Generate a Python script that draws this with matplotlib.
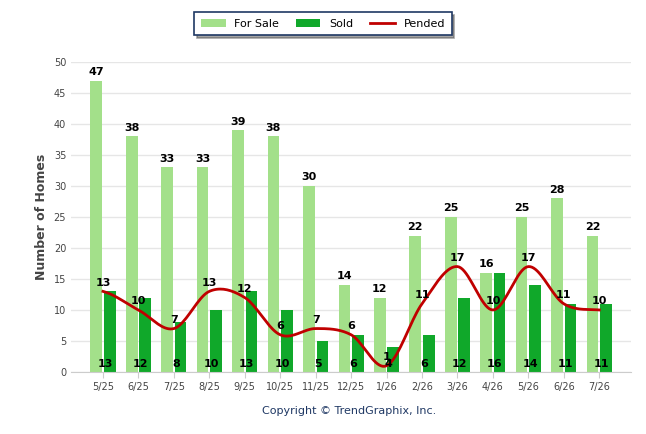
import numpy as np
from matplotlib import pyplot as plt

months = ['5/25', '6/25', '7/25', '8/25', '9/25', '10/25', '11/25', '12/25',
          '1/26', '2/26', '3/26', '4/26', '5/26', '6/26', '7/26']
for_sale = [47, 38, 33, 33, 39, 38, 30, 14, 12, 22, 25, 16, 25, 28, 22]
sold = [13, 12, 8, 10, 13, 10, 5, 6, 4, 6, 12, 16, 14, 11, 11]
pended = [13, 10, 7, 13, 12, 6, 7, 6, 1, 11, 17, 10, 17, 11, 10]


def smooth(xs, ys, n=20):
    # Catmull-Rom curve through the points, only for drawing the line
    xs = np.asarray(xs, float)
    ys = np.asarray(ys, float)
    px = np.concatenate([[2 * xs[0] - xs[1]], xs, [2 * xs[-1] - xs[-2]]])
    py = np.concatenate([[ys[0]], ys, [ys[-1]]])
    ox, oy = [], []
    t = np.linspace(0, 1, n, endpoint=False)
    for i in range(1, len(px) - 2):
        for p, o in ((px, ox), (py, oy)):
            p0, p1, p2, p3 = p[i - 1], p[i], p[i + 1], p[i + 2]
            o.extend(0.5 * (2 * p1 + (-p0 + p2) * t + (2 * p0 - 5 * p1 + 4 * p2 - p3) * t ** 2
                            + (-p0 + 3 * p1 - 3 * p2 + p3) * t ** 3))
    ox.append(xs[-1])
    oy.append(ys[-1])
    return ox, oy


fig = plt.figure(figsize=(6.46, 4.34), dpi=100)
ax = fig.add_axes([0.11, 0.143, 0.867, 0.714])

x = np.arange(len(months))
w = 0.33
off = 0.19
b1 = ax.bar(x - off, for_sale, w, color='#a3e08a', label='For Sale', zorder=2)
b2 = ax.bar(x + off, sold, w, color='#10a82a', label='Sold', zorder=2)
sx, sy = smooth(x, pended)
l1, = ax.plot(sx, sy, color='#c00000', lw=2, label='Pended', zorder=3)

for i in x:
    ax.text(i - off, for_sale[i] + 0.6, str(for_sale[i]), ha='center', va='bottom',
            fontsize=8, fontweight='bold', zorder=4)
    ax.text(i + off * 0.3, 0.4, str(sold[i]), ha='center', va='bottom', fontsize=8,
            fontweight='bold', zorder=4)
    ax.text(i, pended[i] + 0.6, str(pended[i]), ha='center', va='bottom', fontsize=8,
            fontweight='bold', zorder=4)

ax.set_xlim(-0.9, len(months) - 0.1)
ax.set_ylim(0, 50)
ax.set_yticks(range(0, 51, 5))
ax.set_xticks(x, months)
ax.tick_params(axis='both', labelsize=7, colors='#444444', length=0)
ax.tick_params(axis='x', length=4, color='#cccccc')
ax.grid(axis='y', color='#e6e6e6', lw=1, zorder=0)
for s in ['top', 'right', 'left']:
    ax.spines[s].set_visible(False)
ax.spines['bottom'].set_color('#cccccc')
ax.set_ylabel('Number of Homes', fontsize=9, fontweight='bold', color='#444444')

leg = fig.legend(handles=[b1, b2, l1], loc='upper center', bbox_to_anchor=(0.5, 0.985),
                 ncol=3, fontsize=8, frameon=True, fancybox=False, shadow=True,
                 handlelength=2.2, columnspacing=1.5, borderpad=0.6)
leg.get_frame().set_edgecolor('#1f3864')
leg.get_frame().set_linewidth(1.2)

fig.text(0.54, 0.045, 'Copyright \u00a9 TrendGraphix, Inc.', ha='center', fontsize=8,
         color='#1f3864')

fig.savefig('out.png')
